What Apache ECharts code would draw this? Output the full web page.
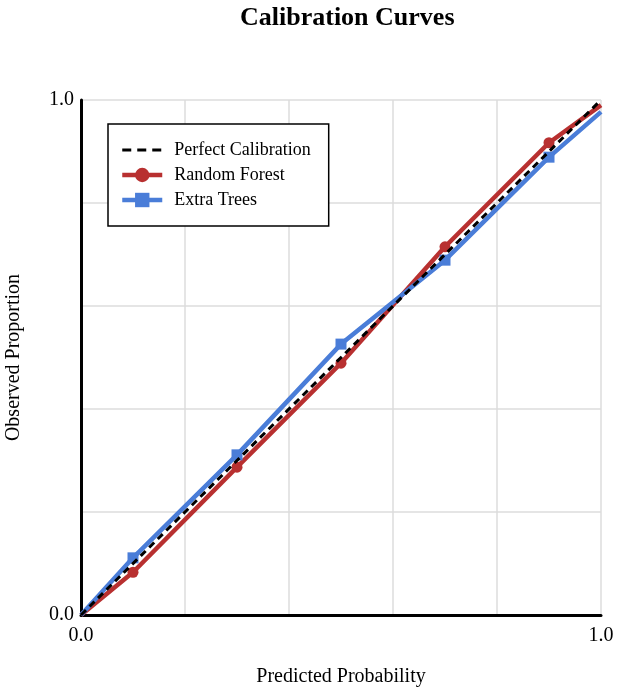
<!DOCTYPE html>
<html>
<head>
<meta charset="utf-8">
<script src="https://cdn.jsdelivr.net/npm/echarts@6/dist/echarts.min.js"></script>
<style>
  html, body { margin: 0; padding: 0; background: #fff; }
  #chart { width: 621px; height: 689px; }
</style>
</head>
<body>
<div id="chart"></div>
<script>
// predicted probability bins
const binCenters = [0, 0.1, 0.3, 0.5, 0.7, 0.9, 1.0];
const perfectX = [0, 1];
const perfectY = [0, 1];
const rfObserved = [0, 0.083, 0.287, 0.489, 0.715, 0.917, 0.99];
const etObserved = [0, 0.111, 0.311, 0.526, 0.689, 0.889, 0.977];
const tickLabels = { 0: '0.0', 1: '1.0' };

const serif = '"Liberation Serif", "DejaVu Serif", serif';

function pairs(xs, ys) {
  return xs.map((x, i) => [x, ys[i]]);
}

// marker only on interior bins, endpoints are plain
function withMarkers(xs, ys) {
  return xs.map((x, i) => {
    const end = i === 0 || i === xs.length - 1;
    return end ? { value: [x, ys[i]], symbol: 'none' } : [x, ys[i]];
  });
}

const chart = echarts.init(document.getElementById('chart'));

const options = {
  animation: false,
  title: {
    text: 'Calibration Curves',
    left: 235,
    top: 0,
    textStyle: { fontFamily: serif, fontSize: 26, fontWeight: 'bold', color: '#000' }
  },
  legend: {
    orient: 'vertical',
    left: 108,
    top: 124,
    padding: [17, 18, 17, 12],
    itemGap: 7,
    itemWidth: 40,
    itemHeight: 18,
    borderColor: '#000',
    borderWidth: 1.5,
    backgroundColor: '#fff',
    lineStyle: { width: 4.5 },
    textStyle: { fontFamily: serif, fontSize: 18, color: '#000', padding: [0, 0, 0, 7] },
    data: [
      { name: 'Perfect Calibration', itemStyle: { opacity: 0 }, lineStyle: { width: 3, type: [9, 6] } },
      'Random Forest',
      'Extra Trees'
    ]
  },
  grid: { left: 81, right: 20, top: 100, bottom: 74, outerBoundsMode: 'none', containLabel: false },
  xAxis: {
    type: 'value',
    min: 0,
    max: 1,
    interval: 0.2,
    name: 'Predicted Probability',
    nameLocation: 'middle',
    nameGap: 52,
    nameTextStyle: { fontFamily: serif, fontSize: 20, color: '#000' },
    axisLine: { show: true, lineStyle: { color: '#000', width: 3 } },
    axisTick: { show: false },
    axisLabel: {
      fontFamily: serif, fontSize: 20, color: '#000', margin: 11,
      formatter: v => tickLabels[v] || ''
    },
    splitLine: { show: true, lineStyle: { color: '#dcdcdc', width: 1.5 } }
  },
  yAxis: {
    type: 'value',
    min: 0,
    max: 1,
    interval: 0.2,
    name: 'Observed Proportion',
    nameLocation: 'middle',
    nameGap: 57,
    nameTextStyle: { fontFamily: serif, fontSize: 20, color: '#000' },
    axisLine: { show: true, lineStyle: { color: '#000', width: 3 } },
    axisTick: { show: false },
    axisLabel: {
      fontFamily: serif, fontSize: 20, color: '#000', margin: 7,
      formatter: v => tickLabels[v] || ''
    },
    splitLine: { show: true, lineStyle: { color: '#dcdcdc', width: 1.5 } }
  },
  series: [
    {
      name: 'Perfect Calibration',
      type: 'line',
      data: pairs(perfectX, perfectY),
      symbol: 'none',
      z: 5,
      itemStyle: { color: '#000' },
      lineStyle: { color: '#000', width: 3, type: [7, 5] }
    },
    {
      name: 'Random Forest',
      type: 'line',
      data: withMarkers(binCenters, rfObserved),
      symbol: 'circle',
      symbolSize: 11,
      z: 3,
      itemStyle: { color: '#b83030' },
      lineStyle: { color: '#b83030', width: 4.5 }
    },
    {
      name: 'Extra Trees',
      type: 'line',
      data: withMarkers(binCenters, etObserved),
      symbol: 'rect',
      symbolSize: 11,
      z: 4,
      itemStyle: { color: '#4a7dd8' },
      lineStyle: { color: '#4a7dd8', width: 4.5 }
    }
  ]
};

chart.setOption(options);
</script>
</body>
</html>
